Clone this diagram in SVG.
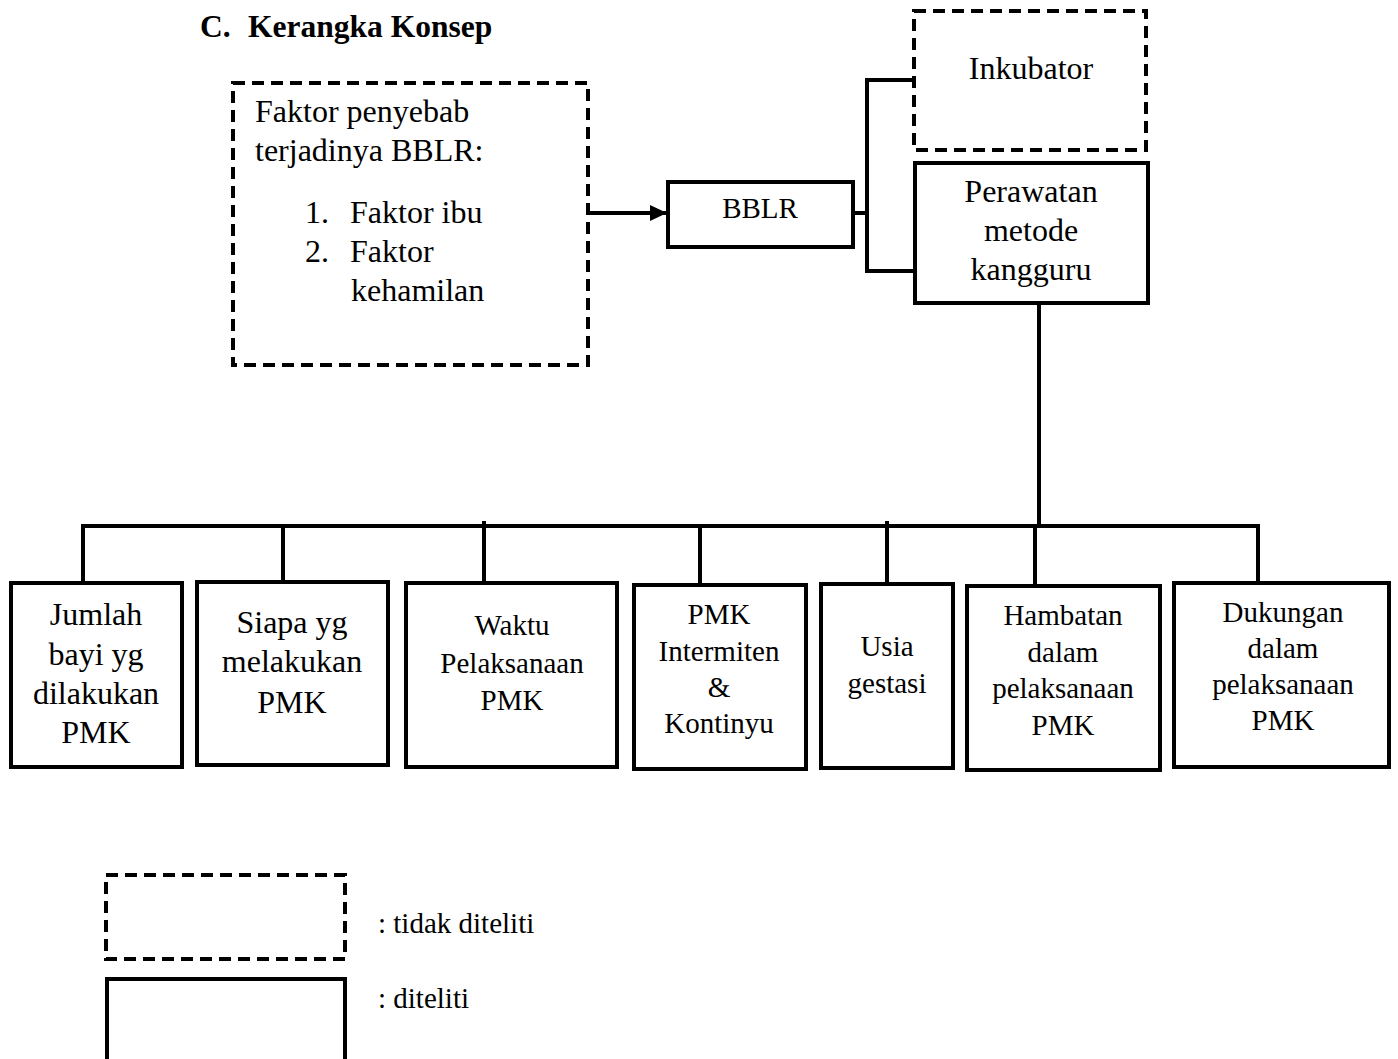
<svg xmlns="http://www.w3.org/2000/svg" width="1398" height="1059" viewBox="0 0 1398 1059">
<style>
text{font-family:"Liberation Serif","Times New Roman",serif;fill:#000}
.t32{font-size:32px}
.t29{font-size:29px}
.c{text-anchor:middle}
.solid{fill:#fff;stroke:#000;stroke-width:4}
.dash{fill:#fff;stroke:#000;stroke-width:4;stroke-dasharray:12 7}
.ln{fill:none;stroke:#000;stroke-width:4}
</style>
<defs>
<marker id="arr" markerWidth="17" markerHeight="16" refX="17" refY="8" orient="auto" markerUnits="userSpaceOnUse">
<path d="M0,0 L17,8 L0,16 Z" fill="#000"/>
</marker>
</defs>
<rect width="1398" height="1059" fill="#fff"/>
<g id="title">
<text x="200" y="37" style="font-size:31.5px;font-weight:bold">C.</text>
<text x="248" y="37" style="font-size:31.5px;font-weight:bold">Kerangka Konsep</text>
</g>
<g id="connectors">
<line class="ln" x1="588" y1="213" x2="667" y2="213" marker-end="url(#arr)"/>
<polyline class="ln" points="853,213 867,213"/>
<polyline class="ln" points="914,80 867,80 867,271 914,271"/>
<line class="ln" x1="1039" y1="303" x2="1039" y2="526"/>
<line class="ln" x1="81" y1="526" x2="1260" y2="526"/>
<line class="ln" x1="83" y1="524" x2="83" y2="583"/>
<line class="ln" x1="283" y1="524" x2="283" y2="582"/>
<line class="ln" x1="484" y1="521" x2="484" y2="583"/>
<line class="ln" x1="700" y1="524" x2="700" y2="584"/>
<line class="ln" x1="887" y1="521" x2="887" y2="584"/>
<line class="ln" x1="1035" y1="524" x2="1035" y2="586"/>
<line class="ln" x1="1258" y1="524" x2="1258" y2="583"/>
</g>
<g id="faktor">
<rect class="dash" x="233" y="83" width="355" height="282"/>
<text class="t32" x="255" y="122">Faktor penyebab</text>
<text class="t32" x="255" y="161">terjadinya BBLR:</text>
<text class="t32" x="305" y="223">1.</text>
<text class="t32" x="350" y="223">Faktor ibu</text>
<text class="t32" x="305" y="262">2.</text>
<text class="t32" x="350" y="262">Faktor</text>
<text class="t32" x="351" y="301">kehamilan</text>
</g>
<g id="bblr">
<rect class="solid" x="668" y="182" width="185" height="65"/>
<text class="t29 c" x="760" y="218">BBLR</text>
</g>
<g id="inkubator">
<rect class="dash" x="914" y="11" width="232" height="139"/>
<text class="t32 c" x="1031" y="79">Inkubator</text>
</g>
<g id="perawatan">
<rect class="solid" x="915" y="163" width="233" height="140"/>
<text class="t32 c" x="1031" y="202">Perawatan</text>
<text class="t32 c" x="1031" y="241">metode</text>
<text class="t32 c" x="1031" y="280">kangguru</text>
</g>
<g id="jumlah">
<rect class="solid" x="11" y="583" width="171" height="184"/>
<text class="t32 c" x="96" y="625">Jumlah</text>
<text class="t32 c" x="96" y="665">bayi yg</text>
<text class="t32 c" x="96" y="704">dilakukan</text>
<text class="t32 c" x="96" y="743">PMK</text>
</g>
<g id="siapa">
<rect class="solid" x="197" y="582" width="191" height="183"/>
<text class="t32 c" x="292" y="633">Siapa yg</text>
<text class="t32 c" x="292" y="672">melakukan</text>
<text class="t32 c" x="292" y="713">PMK</text>
</g>
<g id="waktu">
<rect class="solid" x="406" y="583" width="211" height="184"/>
<text class="t29 c" x="512" y="635">Waktu</text>
<text class="t29 c" x="512" y="673">Pelaksanaan</text>
<text class="t29 c" x="512" y="710">PMK</text>
</g>
<g id="intermiten">
<rect class="solid" x="634" y="585" width="172" height="184"/>
<text class="t29 c" x="719" y="624">PMK</text>
<text class="t29 c" x="719" y="661">Intermiten</text>
<text class="t29 c" x="719" y="697">&amp;</text>
<text class="t29 c" x="719" y="733">Kontinyu</text>
</g>
<g id="usia">
<rect class="solid" x="821" y="584" width="132" height="184"/>
<text class="t29 c" x="887" y="656">Usia</text>
<text class="t29 c" x="887" y="693">gestasi</text>
</g>
<g id="hambatan">
<rect class="solid" x="967" y="586" width="193" height="184"/>
<text class="t29 c" x="1063" y="625">Hambatan</text>
<text class="t29 c" x="1063" y="662">dalam</text>
<text class="t29 c" x="1063" y="698">pelaksanaan</text>
<text class="t29 c" x="1063" y="735">PMK</text>
</g>
<g id="dukungan">
<rect class="solid" x="1174" y="583" width="215" height="184"/>
<text class="t29 c" x="1283" y="622">Dukungan</text>
<text class="t29 c" x="1283" y="658">dalam</text>
<text class="t29 c" x="1283" y="694">pelaksanaan</text>
<text class="t29 c" x="1283" y="730">PMK</text>
</g>
<g id="legend">
<rect class="dash" x="106" y="875" width="239" height="84"/>
<text class="t29" x="378" y="933">: tidak diteliti</text>
<rect class="solid" x="107" y="979" width="238" height="110"/>
<text class="t29" x="378" y="1008">: diteliti</text>
</g>
</svg>
